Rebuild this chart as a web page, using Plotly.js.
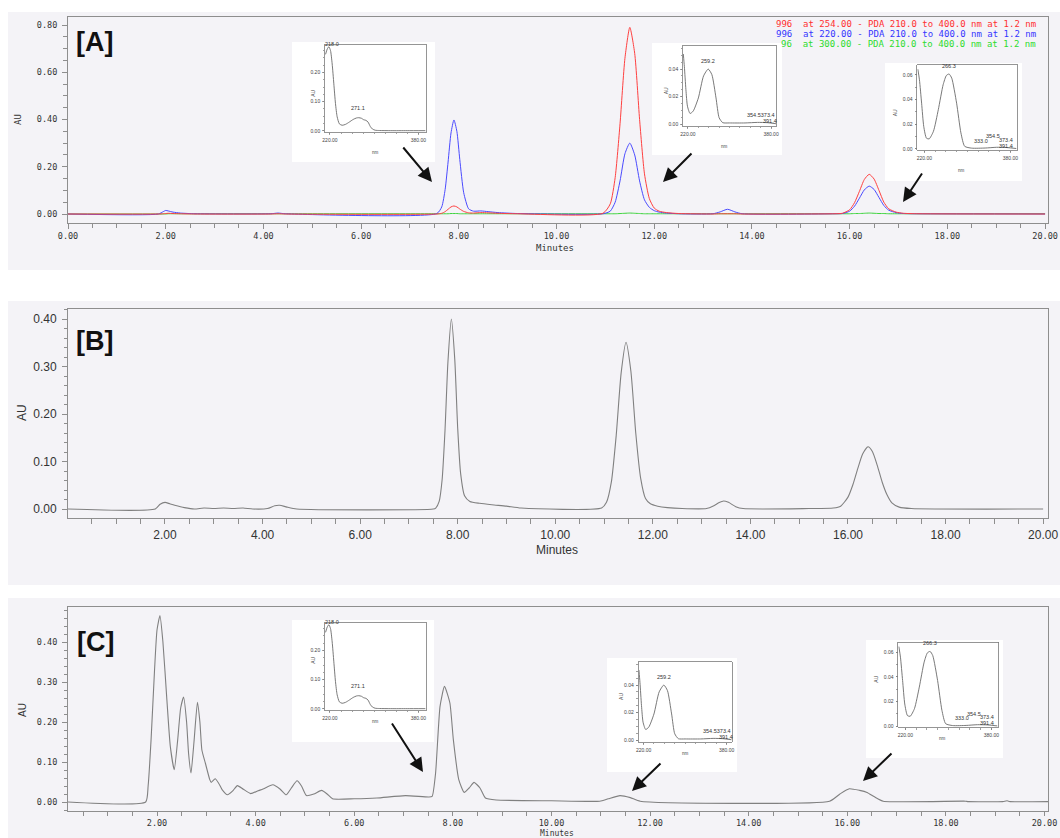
<!DOCTYPE html>
<html>
<head>
<meta charset="utf-8">
<script src="https://cdn.plot.ly/plotly-3.0.1.min.js"></script>
<style>html,body{margin:0;padding:0;background:#fff;}#chart{width:1060px;height:838px;}</style>
</head>
<body>
<div id="chart"></div>
<script>
// ---------------- DATA ----------------
// Panel A: retention time (min) and absorbance (AU) at three wavelengths
const tA = [0, 1.85, 1.95, 2.0, 2.05, 2.15, 2.3, 2.6, 4.15, 4.3, 4.45, 7.55, 7.65, 7.72, 7.78, 7.84, 7.9, 7.96, 8.02, 8.1, 8.2, 8.3, 8.45, 8.6, 8.8, 9.2, 10.95, 11.1, 11.2, 11.3, 11.4, 11.5, 11.6, 11.7, 11.8, 11.9, 12.0, 12.1, 12.25, 12.5, 13.2, 13.35, 13.5, 13.65, 13.8, 15.7, 15.85, 16.0, 16.1, 16.2, 16.3, 16.4, 16.5, 16.6, 16.7, 16.8, 16.95, 17.1, 17.4, 20];
const redA254 = [0, 0, 0.001, 0.002, 0.003, 0.002, 0.001, 0, 0, 0.001, 0, 0, 0.003, 0.010, 0.020, 0.030, 0.034, 0.030, 0.021, 0.011, 0.005, 0.004, 0.006, 0.005, 0.003, 0.001, 0.003, 0.043, 0.154, 0.382, 0.659, 0.79, 0.68, 0.40, 0.17, 0.065, 0.025, 0.012, 0.006, 0.002, 0, 0.001, 0.001, 0.001, 0, 0.001, 0.003, 0.018, 0.048, 0.096, 0.146, 0.168, 0.148, 0.10, 0.05, 0.022, 0.008, 0.003, 0.001, 0];
const blueA220 = [0, 0, 0.010, 0.015, 0.013, 0.008, 0.004, 0.001, 0.001, 0.004, 0.001, 0.002, 0.030, 0.104, 0.22, 0.343, 0.398, 0.35, 0.23, 0.09, 0.022, 0.012, 0.013, 0.010, 0.006, 0.002, 0.001, 0.012, 0.05, 0.14, 0.255, 0.30, 0.25, 0.14, 0.06, 0.028, 0.014, 0.008, 0.004, 0.001, 0.001, 0.009, 0.020, 0.009, 0.001, 0.001, 0.002, 0.012, 0.033, 0.067, 0.102, 0.118, 0.104, 0.07, 0.036, 0.016, 0.006, 0.002, 0.001, 0];
const greenA300 = [0, 0, 0, 0, 0.001, 0.001, 0.001, 0.001, 0.001, 0.001, 0.001, 0.001, 0.001, 0.001, 0.001, 0.002, 0.002, 0.002, 0.001, 0.001, 0.001, 0.001, 0.001, 0.001, 0.001, 0.001, 0.001, 0.001, 0.001, 0.002, 0.003, 0.004, 0.003, 0.002, 0.001, 0.001, 0.001, 0.001, 0.001, 0.001, 0.001, 0.001, 0.001, 0.001, 0.001, 0.001, 0.001, 0.001, 0.002, 0.002, 0.003, 0.004, 0.003, 0.002, 0.002, 0.001, 0.001, 0.001, 0.001, 0.001];
const legendA = [
  "996  at 254.00 - PDA 210.0 to 400.0 nm at 1.2 nm",
  "996  at 220.00 - PDA 210.0 to 400.0 nm at 1.2 nm",
  "96  at 300.00 - PDA 210.0 to 400.0 nm at 1.2 nm"
];

// Panel B
const tB = [0, 1.8, 1.9, 2.0, 2.1, 2.2, 2.4, 2.6, 2.8, 3.0, 3.2, 3.4, 3.6, 3.8, 4.1, 4.25, 4.35, 4.5, 4.7, 7.5, 7.55, 7.62, 7.68, 7.74, 7.80, 7.87, 7.94, 8.00, 8.06, 8.14, 8.25, 8.45, 8.7, 9.0, 9.3, 10.95, 11.05, 11.15, 11.25, 11.35, 11.45, 11.55, 11.65, 11.75, 11.85, 11.95, 12.1, 12.3, 12.6, 13.1, 13.25, 13.35, 13.45, 13.55, 13.7, 13.85, 15.2, 15.7, 15.85, 16.0, 16.1, 16.2, 16.3, 16.41, 16.5, 16.6, 16.7, 16.8, 16.9, 17.05, 17.3, 20];
const auB = [0, 0, 0.010, 0.014, 0.011, 0.008, 0.003, 0.0, 0.002, 0.001, 0.002, 0.001, 0.002, 0.0, 0.001, 0.007, 0.008, 0.004, 0.0, 0.0, 0.002, 0.016, 0.061, 0.166, 0.31, 0.40, 0.315, 0.17, 0.075, 0.028, 0.016, 0.012, 0.009, 0.006, 0.002, 0.002, 0.014, 0.057, 0.156, 0.286, 0.351, 0.29, 0.16, 0.065, 0.022, 0.011, 0.006, 0.003, 0.001, 0.001, 0.007, 0.013, 0.017, 0.014, 0.005, 0.001, 0.001, 0.002, 0.006, 0.025, 0.051, 0.085, 0.116, 0.131, 0.121, 0.092, 0.057, 0.03, 0.013, 0.004, 0.001, 0];

// Panel C
const tC = [0.19, 1.77, 1.82, 1.88, 1.95, 2.0, 2.06, 2.12, 2.2, 2.27, 2.35, 2.42, 2.48, 2.54, 2.6, 2.64, 2.69, 2.75, 2.82, 2.87, 2.91, 2.98, 3.07, 3.1, 3.18, 3.25, 3.32, 3.43, 3.53, 3.63, 3.75, 3.9, 4.05, 4.15, 4.35, 4.5, 4.62, 4.73, 4.84, 4.93, 5.03, 5.18, 5.34, 5.45, 5.56, 6.0, 6.46, 7.04, 7.51, 7.58, 7.65, 7.74, 7.83, 7.94, 8.01, 8.12, 8.23, 8.33, 8.43, 8.55, 8.66, 8.88, 10.0, 10.98, 11.15, 11.39, 11.6, 11.8, 15.64, 15.85, 16.04, 16.25, 16.4, 16.55, 16.73, 18.4, 18.45, 19.15, 19.24, 19.3, 20.1];
const auC = [0, 0, 0.04, 0.156, 0.33, 0.43, 0.466, 0.40, 0.256, 0.139, 0.081, 0.156, 0.235, 0.2625, 0.20, 0.122, 0.0725, 0.15, 0.249, 0.20, 0.13, 0.0975, 0.056, 0.049, 0.058, 0.047, 0.031, 0.018, 0.027, 0.041, 0.032, 0.021, 0.028, 0.0325, 0.043, 0.032, 0.018, 0.036, 0.053, 0.040, 0.016, 0.02, 0.029, 0.02, 0.008, 0.008, 0.010, 0.016, 0.0125, 0.014, 0.0725, 0.239, 0.289, 0.2475, 0.156, 0.056, 0.024, 0.035, 0.049, 0.035, 0.010, 0.005, 0.003, 0.002, 0.008, 0.016, 0.011, 0.002, 0.002, 0.020, 0.033, 0.029, 0.024, 0.013, 0.002, 0.002, 0.001, 0.001, 0.003, 0.001, 0.001];

// UV spectra (insets)
const nm1 = [212, 215, 218, 221, 224, 227, 230, 233, 237, 242, 248, 255, 262, 268, 272, 277, 281, 285, 289, 293, 297, 302, 310, 330, 360, 393];
const ab1 = [0.262, 0.280, 0.288, 0.275, 0.229, 0.161, 0.093, 0.048, 0.024, 0.019, 0.022, 0.030, 0.039, 0.044, 0.045, 0.043, 0.038, 0.036, 0.030, 0.015, 0.006, 0.002, 0.001, 0.0005, 0.0005, 0.0005];
const nm2 = [211, 213, 216, 219, 224, 230, 240, 250, 259, 266, 274, 280, 287, 300, 330, 354, 373, 390];
const ab2 = [0.051, 0.042, 0.025, 0.013, 0.0077, 0.0094, 0.019, 0.035, 0.040, 0.036, 0.019, 0.0046, 0.001, 0.0008, 0.0008, 0.0012, 0.0010, 0.0002];
const nm3 = [208, 211, 215, 219, 224, 229, 237, 246, 255, 261, 266, 271, 280, 288, 295, 308, 333, 354, 373, 391];
const ab3 = [0.0646, 0.056, 0.037, 0.018, 0.0086, 0.008, 0.0142, 0.0317, 0.052, 0.0595, 0.0607, 0.0573, 0.037, 0.0129, 0.002, 0.0005, 0.0006, 0.0012, 0.0010, 0.0002];
const peakLabels1 = [["218.0", 223, 0.284], ["271.1", 271, 0.063]];
const peakLabels2 = [["259.2", 259, 0.0432], ["354.5373.4", 361, 0.0034], ["391.4", 378, -0.0006]];
const peakLabels3 = [["266.3", 265, 0.0640], ["333.0", 325, 0.0030], ["354.5", 348, 0.0068], ["373.4", 372, 0.0040], ["391.4", 372, -0.0006]];

// ---------------- LAYOUT HELPERS ----------------
const W = 1060, H = 838;
const PX = x => x / W;
const PY = y => 1 - y / H;
const domX = (a, b) => [PX(a), PX(b)];
const domY = (top, bottom) => [PY(bottom), PY(top)];
const LINE = '#8e8e8e';
const MONO = 'DejaVu Sans Mono';
const SANS = 'Liberation Sans, Arial, sans-serif';

function mainAxis(o) {
  return Object.assign({
    showgrid: false, zeroline: false, showline: true, mirror: true,
    linecolor: LINE, linewidth: 1, ticks: 'outside', ticklen: 5, tickwidth: 1,
    tickcolor: LINE, fixedrange: true, tickformat: '.2f', ticklabelstandoff: 3
  }, o);
}
function insetAxis(o) {
  return Object.assign({
    showgrid: false, zeroline: false, showline: true, mirror: true,
    linecolor: '#7a7a7a', linewidth: 0.8, ticks: 'outside', ticklen: 2, tickwidth: 0.7,
    tickcolor: '#7a7a7a', fixedrange: true, tickfont: {family: SANS, size: 5, color: '#444'},
    ticklabelstandoff: 1
  }, o);
}

// inset pixel boxes: [left, top, right, bottom] of inner plot
const insetA1 = [325, 45, 425.7, 131.7];
const insetA2 = [683, 46, 776, 125.7];
const insetA3 = [917.3, 65, 1016.7, 150];
const insetC1 = [325, 623, 425.7, 709.7];
const insetC2 = [638.6, 662, 731.6, 741.7];
const insetC3 = [898.3, 642.4, 997.7, 727.4];

const layout = {
  width: W, height: H, margin: {l: 0, r: 0, t: 0, b: 0},
  paper_bgcolor: '#ffffff', plot_bgcolor: 'rgba(0,0,0,0)', showlegend: false,
  font: {family: SANS, color: '#333'},
  xaxis: mainAxis({domain: domX(68, 1048), anchor: 'y', range: [0, 20.06], tick0: 0, dtick: 2,
    ticklabelstandoff: 0,
    tickfont: {family: MONO, size: 8.5, color: '#333'},
    minor: {dtick: 0.5, ticklen: 4, ticks: 'outside', tickcolor: LINE}}),
  yaxis: mainAxis({domain: domY(17, 223), anchor: 'x', range: [-0.0381, 0.8339], tick0: 0, dtick: 0.2,
    tickfont: {family: MONO, size: 8.5, color: '#333'},
    minor: {dtick: 0.05, ticklen: 4, ticks: 'outside', tickcolor: LINE}}),
  xaxis2: mainAxis({domain: domX(68, 1048), anchor: 'y2', range: [0.012, 20.1], tick0: 0, dtick: 2,
    ticklabelstandoff: 1,
    tickfont: {family: SANS, size: 12, color: '#333'},
    minor: {dtick: 0.5, ticklen: 5, ticks: 'outside', tickcolor: LINE}}),
  yaxis2: mainAxis({domain: domY(309, 518), anchor: 'x2', range: [-0.0189, 0.4211], tick0: 0, dtick: 0.1,
    tickfont: {family: SANS, size: 12, color: '#333'},
    minor: {dtick: 0.02, ticklen: 3, ticks: 'outside', tickcolor: LINE}}),
  xaxis3: mainAxis({domain: domX(68, 1048), anchor: 'y3', range: [0.195, 20.07], tick0: 0, dtick: 2,
    ticklabelstandoff: 0, ticklen: 4,
    tickfont: {family: MONO, size: 8.5, color: '#333'},
    minor: {dtick: 0.5, ticklen: 4, ticks: 'outside', tickcolor: LINE}}),
  yaxis3: mainAxis({domain: domY(607, 811), anchor: 'x3', range: [-0.0225, 0.4875], tick0: 0, dtick: 0.1,
    tickfont: {family: MONO, size: 8.5, color: '#333'},
    minor: {dtick: 0.02, ticklen: 3, ticks: 'outside', tickcolor: LINE}}),
  shapes: [], annotations: []
};

const insetDefs = [
  {n: 4, box: insetA1, xr: [211, 393.4], yr: [-0.003, 0.294], yt: [0, 0.1, 0.2], ym: 0.025, nm: nm1, ab: ab1, labels: peakLabels1, wb: [292, 42, 435, 162]},
  {n: 5, box: insetA2, xr: [210.4, 389.6], yr: [-0.0012, 0.0568], yt: [0, 0.02, 0.04], ym: 0.005, nm: nm2, ab: ab2, labels: peakLabels2, wb: [652, 43, 782, 155]},
  {n: 6, box: insetA3, xr: [207, 391.6], yr: [-0.001, 0.068], yt: [0, 0.02, 0.04, 0.06], ym: 0.01, nm: nm3, ab: ab3, labels: peakLabels3, wb: [885, 63, 1022, 181]},
  {n: 7, box: insetC1, xr: [211, 393.4], yr: [-0.003, 0.294], yt: [0, 0.1, 0.2], ym: 0.025, nm: nm1, ab: ab1, labels: peakLabels1, wb: [292, 620, 434, 742]},
  {n: 8, box: insetC2, xr: [210.4, 389.6], yr: [-0.0012, 0.0568], yt: [0, 0.02, 0.04], ym: 0.005, nm: nm2, ab: ab2, labels: peakLabels2, wb: [607, 658, 737, 772]},
  {n: 9, box: insetC3, xr: [207, 391.6], yr: [-0.001, 0.068], yt: [0, 0.02, 0.04, 0.06], ym: 0.01, nm: nm3, ab: ab3, labels: peakLabels3, wb: [866, 640, 1003, 758]}
];

// panel backgrounds
[[8, 12, 1060, 270], [8, 301, 1060, 585], [8, 598, 1060, 838]].forEach(b => {
  layout.shapes.push({type: 'rect', xref: 'paper', yref: 'paper', layer: 'below',
    x0: PX(b[0]), x1: PX(b[2]), y0: PY(b[3]), y1: PY(b[1]),
    fillcolor: '#f4f3f7', line: {width: 0}});
});

const traces = [];
// main traces
traces.push({x: tA, y: greenA300, xaxis: 'x', yaxis: 'y', mode: 'lines', line: {color: '#3cd43c', width: 1, shape: 'spline', smoothing: 0.6}, hoverinfo: 'skip'});
traces.push({x: tA, y: blueA220, xaxis: 'x', yaxis: 'y', mode: 'lines', line: {color: '#4a4aff', width: 1, shape: 'spline', smoothing: 0.6}, hoverinfo: 'skip'});
traces.push({x: tA, y: redA254, xaxis: 'x', yaxis: 'y', mode: 'lines', line: {color: '#ff4040', width: 1, shape: 'spline', smoothing: 0.6}, hoverinfo: 'skip'});
traces.push({x: tB, y: auB, xaxis: 'x2', yaxis: 'y2', mode: 'lines', line: {color: '#808080', width: 1.1, shape: 'spline', smoothing: 0.6}, hoverinfo: 'skip'});
traces.push({x: tC, y: auC, xaxis: 'x3', yaxis: 'y3', mode: 'lines', line: {color: '#808080', width: 1.1, shape: 'spline', smoothing: 0.5}, hoverinfo: 'skip'});

insetDefs.forEach(d => {
  const b = d.box;
  layout['xaxis' + d.n] = insetAxis({domain: domX(b[0], b[2]), anchor: 'y' + d.n, range: d.xr,
    tickvals: [220, 380], ticktext: ['220.00', '380.00'],
    minor: {dtick: 20, tick0: 220, ticklen: 1.5, ticks: 'outside', tickcolor: '#7a7a7a'}});
  layout['yaxis' + d.n] = insetAxis({domain: domY(b[1], b[3]), anchor: 'x' + d.n, range: d.yr,
    tickvals: d.yt, tickformat: '.2f',
    minor: {dtick: d.ym, tick0: 0, ticklen: 1.5, ticks: 'outside', tickcolor: '#7a7a7a'}});
  const wb = d.wb;
  layout.shapes.push({type: 'rect', xref: 'paper', yref: 'paper', layer: 'below',
    x0: PX(wb[0]), x1: PX(wb[2]), y0: PY(wb[3]), y1: PY(wb[1]), fillcolor: '#ffffff', line: {width: 0}});
  traces.push({x: d.nm, y: d.ab, xaxis: 'x' + d.n, yaxis: 'y' + d.n, mode: 'lines',
    line: {color: '#6a6a6a', width: 0.9, shape: 'spline', smoothing: 0.6}, hoverinfo: 'skip'});
  d.labels.forEach(l => {
    layout.annotations.push({xref: 'x' + d.n, yref: 'y' + d.n, x: l[1], y: l[2], text: l[0],
      showarrow: false, font: {family: SANS, size: 5.5, color: '#333'}, xanchor: 'center', yanchor: 'bottom',
      borderpad: 0});
  });
  // inset axis titles
  layout.annotations.push({xref: 'paper', yref: 'paper', x: PX(b[0] - 17), y: PY((b[1] + b[3]) / 2),
    text: 'AU', textangle: -90, showarrow: false, font: {family: SANS, size: 5, color: '#444'}});
  layout.annotations.push({xref: 'paper', yref: 'paper', x: PX((b[0] + b[2]) / 2), y: PY(b[3] + 16),
    text: 'nm', showarrow: false, font: {family: SANS, size: 4.5, color: '#444'}});
});

// panel labels
[['[A]', 94, 42], ['[B]', 94, 341], ['[C]', 95, 642]].forEach(p => {
  layout.annotations.push({xref: 'paper', yref: 'paper', x: PX(p[1]), y: PY(p[2]), text: '<b>' + p[0] + '</b>',
    showarrow: false, font: {family: SANS, size: 27, color: '#111'}, xanchor: 'center', yanchor: 'middle'});
});

// axis titles
const axTitles = [
  ['AU', 18, 120, -90, MONO, 9],
  ['Minutes', 555, 248, 0, MONO, 9],
  ['AU', 22, 413, -90, SANS, 12],
  ['Minutes', 557, 550, 0, SANS, 12],
  ['AU', 22, 710, -90, SANS, 10],
  ['Minutes', 557, 833, 0, MONO, 8]
];
axTitles.forEach(t => {
  layout.annotations.push({xref: 'paper', yref: 'paper', x: PX(t[1]), y: PY(t[2]), text: t[0], textangle: t[3],
    showarrow: false, font: {family: t[4], size: t[5], color: '#333'}, xanchor: 'center', yanchor: 'middle',
    borderpad: 0});
});

// legend texts (panel A)
const legendColors = ['#ff3030', '#3535ff', '#2edc2e'];
legendA.forEach((s, i) => {
  layout.annotations.push({xref: 'paper', yref: 'paper', x: PX(1038), y: PY(24 + i * 10), text: s,
    showarrow: false, xanchor: 'right', yanchor: 'middle', font: {family: MONO, size: 9, color: legendColors[i]}});
});

// arrows: [headX, headY, tailX, tailY]
[[432, 182, 402, 146], [663, 182, 693, 152], [903, 202, 923, 172],
 [423, 772, 391, 722], [632, 791, 662, 762], [863, 781, 893, 752]].forEach(a => {
  layout.annotations.push({xref: 'paper', yref: 'paper', x: PX(a[0]), y: PY(a[1]),
    ax: a[2] - a[0], ay: a[3] - a[1], axref: 'pixel', ayref: 'pixel', text: '', showarrow: true,
    arrowhead: 2, arrowsize: 1.4, arrowwidth: 2, arrowcolor: '#111', standoff: 0});
});

Plotly.newPlot('chart', traces, layout, {staticPlot: true, displayModeBar: false});
</script>
</body>
</html>
